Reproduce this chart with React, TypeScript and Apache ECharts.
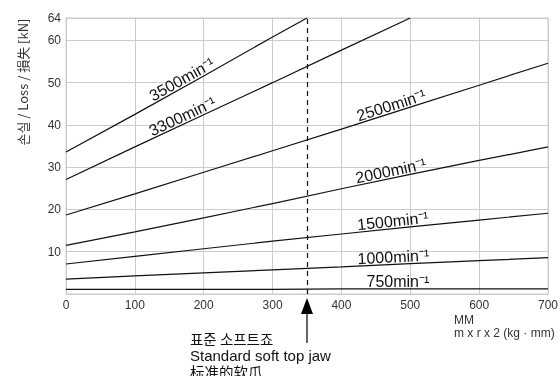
import React, { useEffect, useRef } from "react";
import * as echarts from "echarts";

// ---- data ----
const X_MIN = 0;
const X_MAX = 700;
const X_STEP = 100;
const Y_MIN = 0;
const Y_MAX = 65.3; // top frame of the plot, labelled "64"
const Y_STEP = 10;
const yTopLabel = "64";

const speeds = ["3500", "3300", "2500", "2000", "1500", "1000", "750"];

const xs3500 = [0, 100, 200, 300, 350];
const ys3500 = [33.6, 42.5, 51.6, 60.8, 65.3];
const xs3300 = [0, 100, 200, 300, 400, 500];
const ys3300 = [27.1, 34.8, 42.4, 50.0, 57.7, 65.3];
const xsFull = [0, 100, 200, 300, 400, 500, 600, 700];
const ys2500 = [18.7, 23.7, 28.8, 33.9, 39.0, 44.2, 49.4, 54.6];
const ys2000 = [11.5, 14.7, 18.0, 21.4, 24.9, 28.3, 31.6, 34.8];
const ys1500 = [7.1, 8.9, 10.7, 12.5, 14.2, 15.9, 17.5, 19.1];
const ys1000 = [3.5, 4.3, 5.0, 5.7, 6.4, 7.2, 7.9, 8.6];
const ys750 = [1.1, 1.1, 1.1, 1.1, 1.2, 1.2, 1.2, 1.2];

const seriesXs = [xs3500, xs3300, xsFull, xsFull, xsFull, xsFull, xsFull];
const seriesYs = [ys3500, ys3300, ys2500, ys2000, ys1500, ys1000, ys750];

// x (data units) where each curve's label sits
const labelAnchorX = [174, 174, 476, 474, 476, 476, 482];

const standardJawX = 350;

const yAxisTitle = "손실 / Loss / 損失 [kN]";
const xAxisTitle1 = "MM";
const xAxisTitle2 = "m x r x 2 (kg · mm)";
const jawKo = "표준 소프트죠";
const jawEn = "Standard soft top jaw";
const jawZh = "标准的软爪";

const LATIN = '"Liberation Sans", Arial, sans-serif';
const TEXT = "#333";
const GRID = "#cccccc";

function interp(xs: number[], ys: number[], x: number): number {
  for (let i = 0; i < xs.length - 1; i++) {
    if (x >= xs[i] && x <= xs[i + 1]) {
      const t = (x - xs[i]) / (xs[i + 1] - xs[i]);
      return ys[i] + t * (ys[i + 1] - ys[i]);
    }
  }
  return ys[ys.length - 1];
}

export default function App() {
  const ref = useRef<HTMLDivElement>(null);

  useEffect(() => {
    if (!ref.current) return;
    const chart = echarts.init(ref.current, undefined, { renderer: "svg" });

    const series: any[] = speeds.map((s, i) => ({
      name: s,
      type: "line",
      data: seriesXs[i].map((x, j) => [x, seriesYs[i][j]]),
      showSymbol: false,
      symbol: "none",
      silent: true,
      lineStyle: { color: "#111", width: 1.2 },
      z: 3,
    }));
    series[0].markLine = {
      silent: true,
      symbol: ["none", "none"],
      label: { show: false },
      lineStyle: { color: "#111", width: 1.2, type: [5, 4] },
      data: [{ xAxis: standardJawX }],
    };

    chart.setOption({
      animation: false,
      grid: {
        left: 66,
        right: 12,
        top: 18,
        bottom: 82,
        show: true,
        borderColor: GRID,
        borderWidth: 1,
        outerBoundsMode: "none",
      },
      xAxis: {
        type: "value",
        min: X_MIN,
        max: X_MAX,
        interval: X_STEP,
        axisLine: { show: true, lineStyle: { color: GRID } },
        axisTick: { show: false },
        axisLabel: { color: TEXT, fontSize: 12, fontFamily: LATIN, margin: 5 },
        splitLine: { show: true, lineStyle: { color: GRID, width: 1 } },
      },
      yAxis: {
        type: "value",
        min: Y_MIN,
        max: Y_MAX,
        interval: Y_STEP,
        axisLine: { show: true, lineStyle: { color: GRID } },
        axisTick: { show: false },
        axisLabel: {
          color: TEXT,
          fontSize: 12,
          fontFamily: LATIN,
          margin: 5,
          showMaxLabel: true,
          formatter: (v: number) =>
            v === 0 ? "" : v > Y_MAX - 1 ? yTopLabel : String(v),
        },
        splitLine: { show: true, lineStyle: { color: GRID, width: 1 } },
      },
      series,
    });

    const toPx = (x: number, y: number) =>
      chart.convertToPixel({ gridIndex: 0 }, [x, y]) as number[];

    const graphics: any[] = [];

    speeds.forEach((s, i) => {
      const xs = seriesXs[i];
      const ys = seriesYs[i];
      const ax = labelAnchorX[i];
      const ay = interp(xs, ys, ax);
      const p = toPx(ax, ay);
      const pa = toPx(ax - 20, interp(xs, ys, ax - 20));
      const pb = toPx(ax + 20, interp(xs, ys, ax + 20));
      const angle = Math.atan2(-(pb[1] - pa[1]), pb[0] - pa[0]);
      graphics.push({
        type: "text",
        x: p[0],
        y: p[1] + 0.5,
        rotation: angle,
        silent: true,
        z: 10,
        style: {
          text: `${s}min⁻¹`,
          font: `16px ${LATIN}`,
          fill: "#111",
          align: "center",
          verticalAlign: "bottom",
        },
      });
    });

    // arrow for the standard soft top jaw
    const ax = toPx(standardJawX, 0)[0];
    graphics.push({
      type: "polygon",
      silent: true,
      shape: { points: [[ax, 298], [ax - 6, 314], [ax + 6, 314]] },
      style: { fill: "#000" },
    });
    graphics.push({
      type: "line",
      silent: true,
      shape: { x1: ax, y1: 313, x2: ax, y2: 343 },
      style: { stroke: "#000", lineWidth: 1.2 },
    });
    const tx = ax - 117;
    const jawLines = [
      { text: jawKo, y: 338.5, font: '14.5px "Noto Sans CJK KR", sans-serif' },
      { text: jawEn, y: 355, font: `15px ${LATIN}` },
      { text: jawZh, y: 371.5, font: '14.5px "Noto Sans CJK SC", sans-serif' },
    ];
    jawLines.forEach((l) =>
      graphics.push({
        type: "text",
        x: tx,
        y: l.y,
        silent: true,
        style: {
          text: l.text,
          font: l.font,
          lineHeight: 15,
          fill: "#111",
          align: "left",
          verticalAlign: "middle",
        },
      })
    );

    // x-axis title
    graphics.push({
      type: "text",
      x: 454,
      y: 319.5,
      silent: true,
      style: {
        text: xAxisTitle1,
        font: `12px ${LATIN}`,
        lineHeight: 12,
        fill: TEXT,
        align: "left",
        verticalAlign: "middle",
      },
    });
    graphics.push({
      type: "text",
      x: 454,
      y: 333,
      silent: true,
      style: {
        text: xAxisTitle2,
        font: `12px ${LATIN}`,
        lineHeight: 12,
        fill: TEXT,
        align: "left",
        verticalAlign: "middle",
      },
    });

    // y-axis title
    graphics.push({
      type: "text",
      x: 22.5,
      y: 82,
      rotation: Math.PI / 2,
      silent: true,
      style: {
        text: yAxisTitle,
        font: '13px "Noto Sans CJK KR", sans-serif',
        fill: TEXT,
        align: "center",
        verticalAlign: "middle",
      },
    });

    chart.setOption({ graphic: graphics });

    return () => chart.dispose();
  }, []);

  return (
    <div
      ref={ref}
      style={{ position: "fixed", left: 0, top: 0, width: 560, height: 376 }}
    />
  );
}
